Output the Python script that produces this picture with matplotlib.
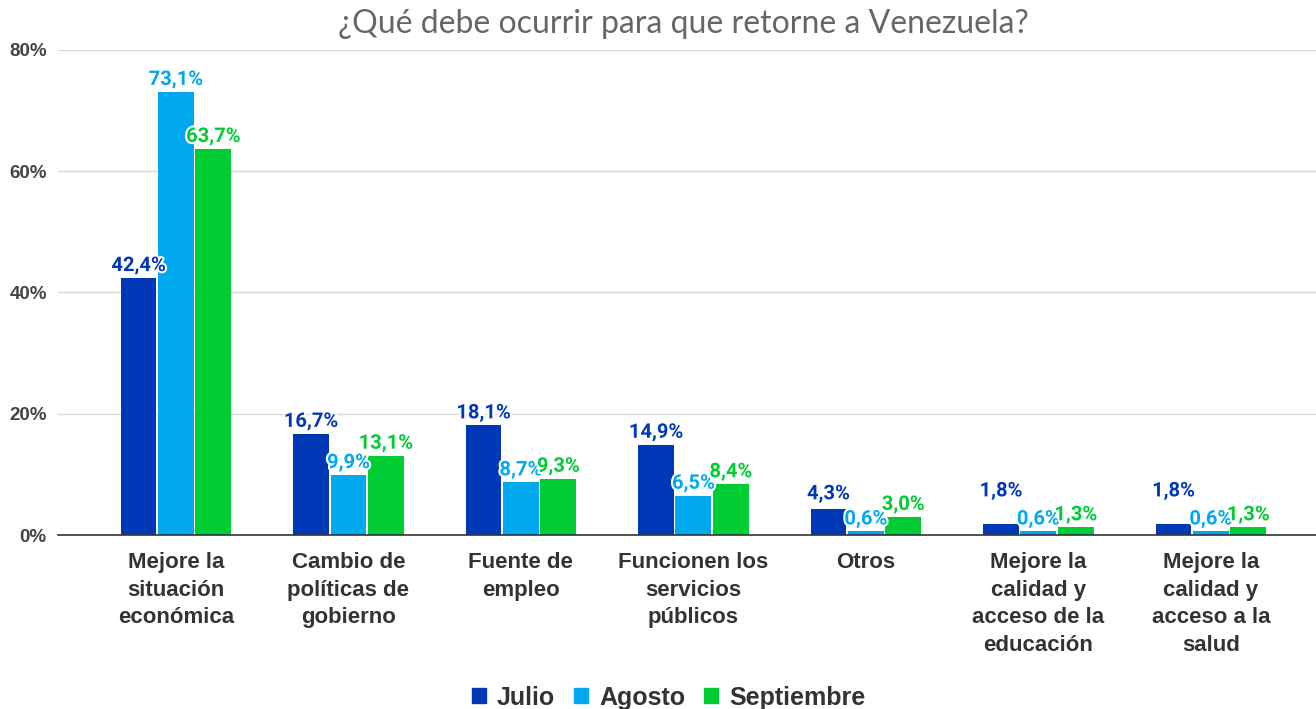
import matplotlib
matplotlib.use("Agg")
import matplotlib.pyplot as plt
import matplotlib.patheffects as pe
from matplotlib.patches import Patch
import numpy as np

categories = ["Mejore la\nsituación\neconómica", "Cambio de\npolíticas de\ngobierno",
              "Fuente de\nempleo", "Funcionen los\nservicios\npúblicos", "Otros",
              "Mejore la\ncalidad y\nacceso de la\neducación", "Mejore la\ncalidad y\nacceso a la\nsalud"]
series_names = ["Julio", "Agosto", "Septiembre"]
julio = [42.4, 16.7, 18.1, 14.9, 4.3, 1.8, 1.8]
agosto = [73.1, 9.9, 8.7, 6.5, 0.6, 0.6, 0.6]
septiembre = [63.7, 13.1, 9.3, 8.4, 3.0, 1.3, 1.3]
yticks = [0, 20, 40, 60, 80]
title = "¿Qué debe ocurrir para que retorne a Venezuela?"

colors = ["#0039B8", "#00A8F0", "#00CC33"]
series = [julio, agosto, septiembre]
# extra vertical label offsets (points) used to avoid collisions, as in the original
base_off = 2
extra_off = {(0, 4): 2, (0, 5): 15, (0, 6): 15}

fig = plt.figure(figsize=(13.16, 7.09), dpi=100)
ax = fig.add_axes([0.044, 0.2454, 0.956, 0.6841])

x = np.arange(len(categories))
width = 0.207
step = 0.217
for i, (vals, col, name) in enumerate(zip(series, colors, series_names)):
    pos = x + (i - 1) * step
    ax.bar(pos, vals, width=width, color=col, zorder=3, label=name)
    for j, (px, v) in enumerate(zip(pos, vals)):
        t = ax.annotate(f"{v:.1f}%".replace(".", ","), xy=(px, v),
                        xytext=(0, base_off + extra_off.get((i, j), 0)),
                        textcoords="offset points",
                        ha="center", va="bottom", color=col, fontsize=14.5,
                        fontweight="bold", family="Roboto", zorder=5)
        t.set_path_effects([pe.withStroke(linewidth=3, foreground="white")])

ax.set_xlim(-0.684, 6.61)
ax.set_ylim(0, 80)
ax.set_yticks(yticks)
ax.set_yticklabels([f"{v}%" for v in yticks], fontsize=13.5, fontweight="bold",
                   color="#444444", family="Liberation Sans")
ax.yaxis.grid(True, color="#d9d9d9", linewidth=1, zorder=0)
ax.tick_params(axis="y", length=0, pad=8)
ax.tick_params(axis="x", length=0, pad=12)
ax.set_xticks(x)
ax.set_xticklabels(categories, fontsize=16, fontweight="bold", color="#333333",
                   family="Liberation Sans", linespacing=1.43, va="top")
for s in ["top", "right", "left"]:
    ax.spines[s].set_visible(False)
ax.spines["bottom"].set_color("#333333")
ax.spines["bottom"].set_linewidth(1.2)
ax.spines["bottom"].set_zorder(4)

fig.text(0.519, 0.966, title, ha="center", va="center", fontsize=23,
         color="#666666", family="Lato")

handles = [Patch(color=c, label=n) for c, n in zip(colors, series_names)]
fig.legend(handles=handles, loc="center", bbox_to_anchor=(0.508, 0.016), ncol=3,
           frameon=False, prop={"family": "Liberation Sans", "weight": "bold", "size": 18},
           handlelength=0.55, handleheight=0.55, handletextpad=0.45, columnspacing=0.75,
           labelcolor="#333333", borderpad=0)

fig.savefig("out.png", dpi=100)
